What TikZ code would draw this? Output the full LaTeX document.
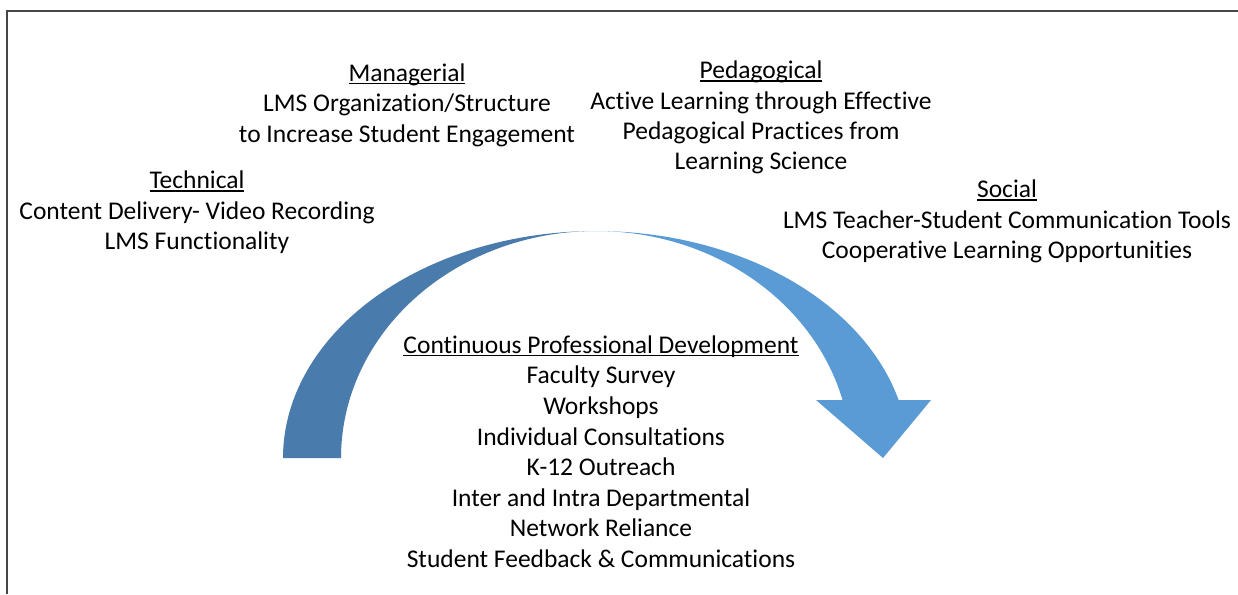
\documentclass[tikz,border=0pt]{standalone}
\usepackage{fontspec}
\setmainfont{Carlito}[Ligatures={NoCommon,NoRare,NoDiscretionary,NoContextual}]
\definecolor{arrowdark}{RGB}{73,124,172}
\definecolor{arrowlight}{RGB}{91,155,213}
\definecolor{framegray}{RGB}{70,70,70}
\newcommand\ulhead[1]{\setbox0\hbox{#1}\rule{0pt}{22pt}\rlap{\rule[-2.8pt]{\wd0}{1.4pt}}\box0}
\begin{document}
\begin{tikzpicture}[x=1pt,y=-1pt,
  txt/.style={align=center, inner sep=0pt, anchor=north, text=black,
    font=\fontsize{25.5}{30.4}\selectfont},
  txtb/.style={txt, font=\fontsize{25.5}{30.6}\selectfont}]
\useasboundingbox (0,0) rectangle (1238,594);
\fill[white] (0,0) rectangle (1238,594);
\draw[line width=1.2pt, framegray] (7,594) -- (7,11) -- (1238,11);
% curved arrow: left crescent
\fill[arrowdark] plot[domain=180:90, samples=90] ({596+313*cos(\x)},{458-227*sin(\x)})
  -- plot[domain=90:180, samples=90] ({596+255*cos(\x)},{458-227*sin(\x)}) -- cycle;
% right part with head
\fill[arrowlight] plot[domain=90:14.8, samples=90] ({596+313*cos(\x)},{458-227*sin(\x)})
  -- (931,400) -- (883,458) -- (816,400)
  -- plot[domain=14.8:90, samples=90] ({596+255*cos(\x)},{458-227*sin(\x)}) -- cycle;
\node[txt] (managerial) at (407,59) {\ulhead{Managerial}\\LMS Organization/Structure\\to Increase Student Engagement};
\node[txt] (pedagogical) at (761,56.5) {\ulhead{Pedagogical}\\Active Learning through Effective\\Pedagogical Practices from\\Learning Science};
\node[txt] (technical) at (197,166.5) {\ulhead{Technical}\\Content Delivery- Video Recording\\LMS Functionality};
\node[txt] (social) at (1007,175.5) {\ulhead{Social}\\LMS Teacher-Student Communication Tools\\Cooperative Learning Opportunities};
\node[txtb] (cpd) at (601,331) {\ulhead{Continuous Professional Development}\\Faculty Survey\\Workshops\\Individual Consultations\\K-12 Outreach\\Inter and Intra Departmental\\Network Reliance\\Student Feedback \& Communications};
\end{tikzpicture}
\end{document}
